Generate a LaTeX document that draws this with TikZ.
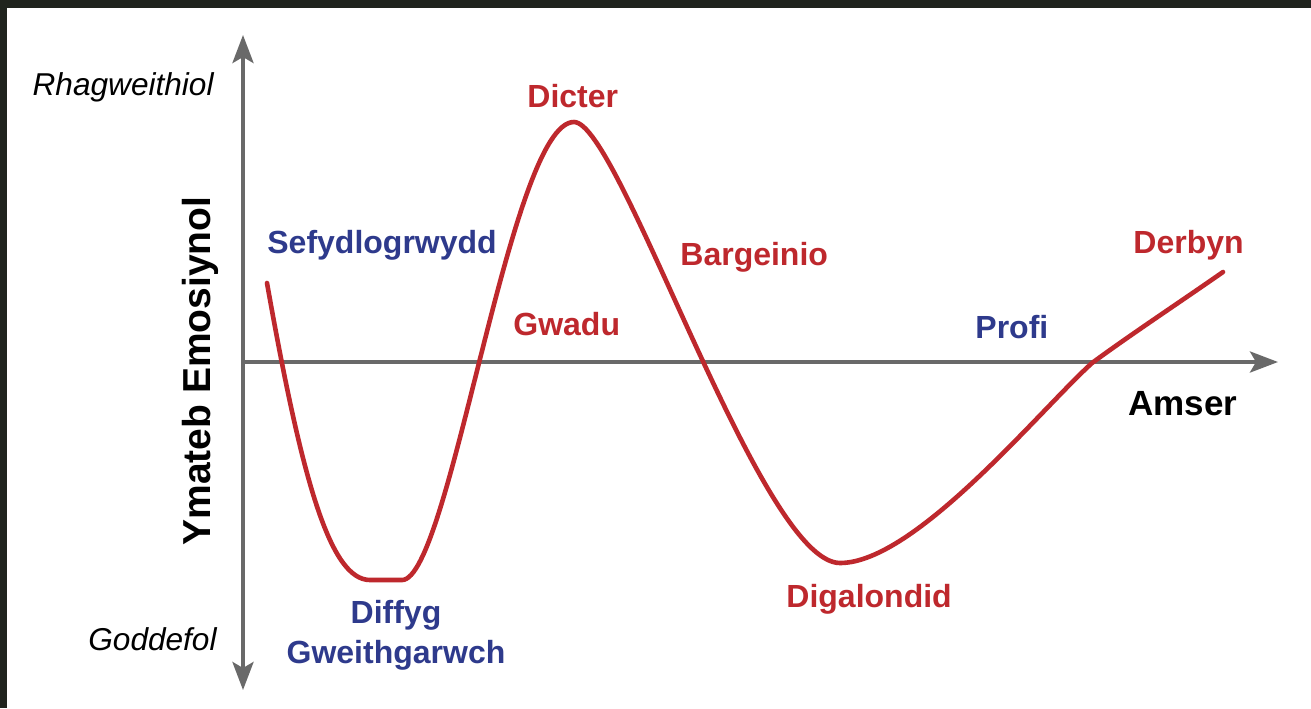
\documentclass[tikz,border=0pt]{standalone}
\usepackage{fontspec}
\setmainfont{Liberation Sans}
\usepackage{xcolor}
\usetikzlibrary{arrows.meta,positioning}
\definecolor{stagered}{RGB}{190,40,45}
\definecolor{stageblue}{RGB}{46,58,140}
\definecolor{axisgrey}{RGB}{105,105,105}
\definecolor{backdrop}{RGB}{32,36,30}

\begin{document}
\begin{tikzpicture}[x=0.5pt,y=-0.5pt,
  >={Stealth[length=14pt,width=10.5pt,inset=3pt]},
  axis/.style={line width=2pt,draw=axisgrey},
  lbl/.style={inner sep=0pt,anchor=base west,font=\fontsize{16}{20}\selectfont\bfseries,text=#1},
  lbl/.default=stagered,
  pole/.style={inner sep=0pt,anchor=base east,font=\fontsize{15.8}{18}\selectfont\itshape}]
  \useasboundingbox (0,0) rectangle (1311,708);
  \fill[backdrop] (0,0) rectangle (1311,708);
  \fill[white] (7,8) rectangle (1311,708);
  % axes
  \coordinate (ytop) at (243,35);
  \coordinate (ybot) at (243,690);
  \coordinate (orig) at (243,362);
  \coordinate (xend) at (1278,362);
  \draw[axis,<->] (ybot) -- (ytop);
  \draw[axis,->] (orig) -- (xend);
  % the curve
  \draw[stagered,line width=2.3pt,line cap=round,line join=round]
    (267,283) .. controls (302,480) and (330,580) .. (370,580) -- (402,580)
    .. controls (450,580) and (510,122) .. (574,122)
    .. controls (620,122) and (760,563) .. (840,563)
    .. controls (915,563) and (1040,410) .. (1092,363)
    .. controls (1130,335) and (1180,302) .. (1223,272);
  % axis texts
  \node[pole] (active) at (214,95) {Rhagweithiol};
  \node[pole] (passive) at (217,650) {Goddefol};
  \node[rotate=90,inner sep=0pt,font=\fontsize{19.5}{22}\selectfont\bfseries] (resp) at (200,371) {Ymateb Emosiynol};
  \node[lbl=black,font=\fontsize{17.5}{20}\selectfont\bfseries] (time) at (1128,415) {Amser};
  % stages
  \node[lbl=stageblue] (stab) at (267,253) {Sefydlogrwydd};
  \node[lbl=stageblue,anchor=north,align=center] (inact) at (396,600) {Diffyg\\Gweithgarwch};
  \node[lbl] (denial) at (513,335) {Gwadu};
  \node[lbl] (anger) at (527,107) {Dicter};
  \node[lbl] (bargain) at (680,265) {Bargeinio};
  \node[lbl] (depress) at (786,607) {Digalondid};
  \node[lbl=stageblue] (test) at (975,338) {Profi};
  \node[lbl] (accept) at (1133,253) {Derbyn};
\end{tikzpicture}
\end{document}
